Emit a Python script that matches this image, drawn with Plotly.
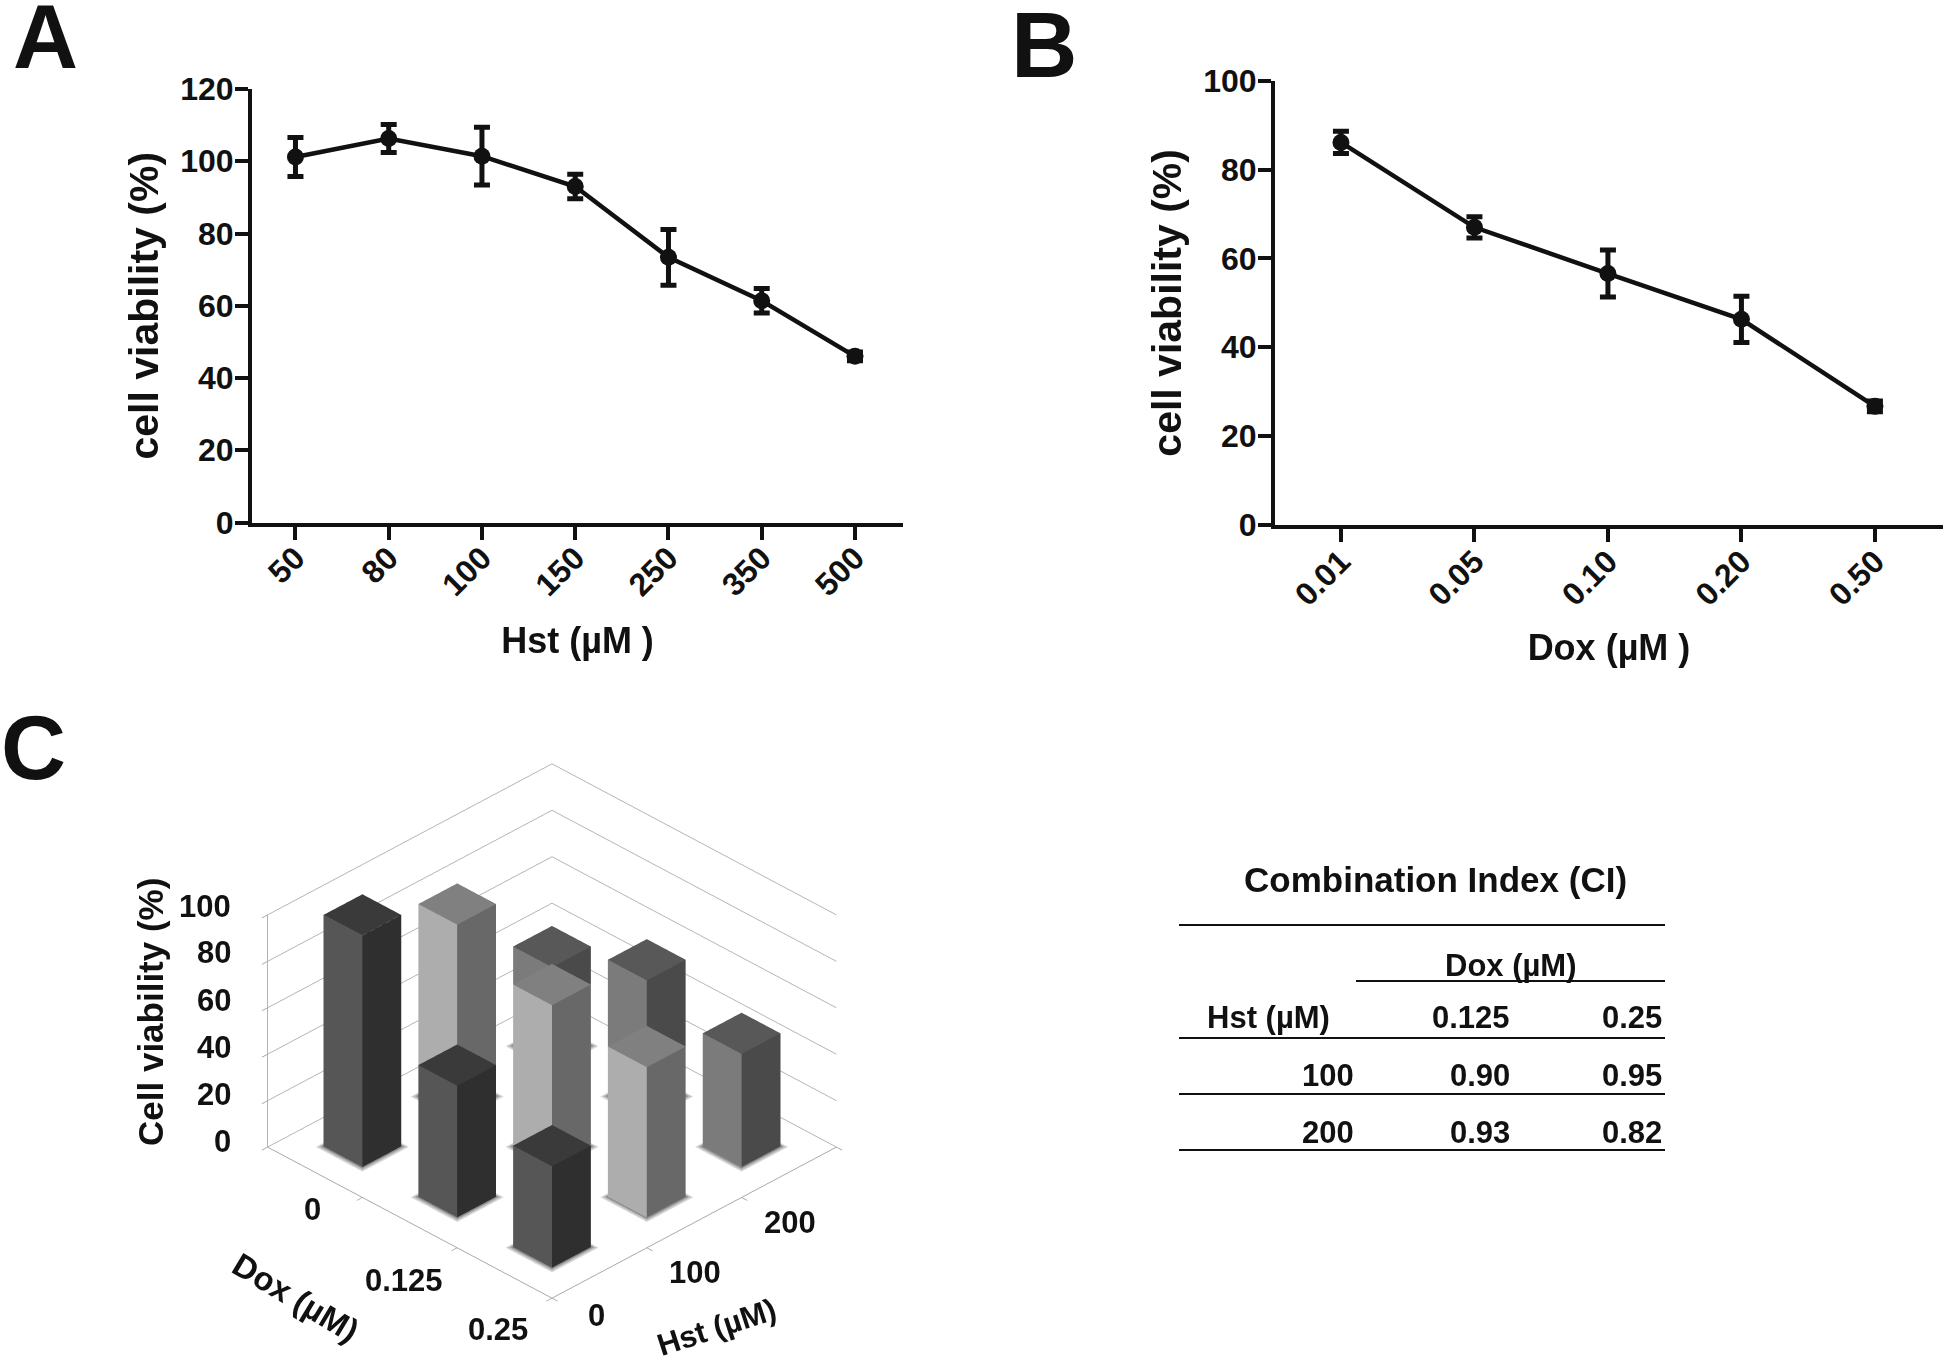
import plotly.graph_objects as go

W, H = 1946, 1363
FONT = "Liberation Sans"
INK = "#111111"

# Panel A
hst_doses = ["50", "80", "100", "150", "250", "350", "500"]
hst_viability = [101.2, 106.3, 101.4, 93.0, 73.4, 61.4, 46.0]
hst_error = [5.4, 3.9, 8.0, 3.4, 7.7, 3.4, 1.2]

# Panel B
dox_doses = ["0.01", "0.05", "0.10", "0.20", "0.50"]
dox_viability = [86.1, 67.0, 56.6, 46.3, 26.7]
dox_error = [2.5, 2.4, 5.3, 5.2, 1.2]

# Panel C
combo_dox = ["0", "0.125", "0.25"]
combo_hst = ["0", "100", "200"]
combo_viability = [
    [100, 83, 43],
    [57, 70, 59],
    [44, 65, 49],
]
combo_ticks = [0, 20, 40, 60, 80, 100]

# CI table
ci_dox = ["0.125", "0.25"]
ci_hst = ["100", "200"]
ci_values = [["0.90", "0.95"], ["0.93", "0.82"]]


def px(x):
    return x / W


def py(y):
    return 1 - y / H


fig = go.Figure()


def line_panel(xa, ya, cats, vals, errs):
    fig.add_trace(go.Scatter(
        x=cats, y=vals, xaxis=xa, yaxis=ya, mode="lines+markers",
        line=dict(color=INK, width=4.5),
        marker=dict(color=INK, size=17),
        error_y=dict(type="data", array=errs, color=INK, thickness=5, width=8),
        showlegend=False, hoverinfo="skip", cliponaxis=False,
    ))


line_panel("x", "y", hst_doses, hst_viability, hst_error)
line_panel("x2", "y2", dox_doses, dox_viability, dox_error)

# 3D bars
BAR_COLORS = [
    dict(top="#3a3a3a", left="#565656", right="#2f2f2f"),
    dict(top="#808080", left="#adadad", right="#686868"),
    dict(top="#585858", left="#7b7b7b", right="#4a4a4a"),
]
HALF = 0.205


def box(xc, yc, half, z0, z1, col):
    xs = [xc - half, xc + half, xc + half, xc - half] * 2
    ys = [yc - half, yc - half, yc + half, yc + half] * 2
    zs = [z0] * 4 + [z1] * 4
    faces = [
        (4, 5, 6, col["top"]), (4, 6, 7, col["top"]),
        (0, 1, 5, col["left"]), (0, 5, 4, col["left"]),     # faces -y
        (1, 2, 6, col["right"]), (1, 6, 5, col["right"]),   # faces +x
    ]
    return go.Mesh3d(
        x=xs, y=ys, z=zs,
        i=[f[0] for f in faces], j=[f[1] for f in faces], k=[f[2] for f in faces],
        facecolor=[f[3] for f in faces], flatshading=True,
        lighting=dict(ambient=1, diffuse=0, specular=0, fresnel=0, roughness=1),
        hoverinfo="skip", showscale=False, scene="scene",
    )


for i, row in enumerate(combo_viability):
    for j, v in enumerate(row):
        for grow, shade, lift in ((0.04, "#dcdcdc", 0.1), (0.028, "#bdbdbd", 0.2), (0.014, "#8f8f8f", 0.3)):
            fig.add_trace(box(i, j, HALF + grow, 0, lift,
                              dict(top=shade, left=shade, right=shade)))
        fig.add_trace(box(i, j, HALF, 0, v, BAR_COLORS[j]))

axis3d = dict(
    showbackground=False, showgrid=False, zeroline=False, showspikes=False,
    showline=True, linecolor="#a8a8a8", linewidth=2,
    ticks="outside", tickcolor="#a8a8a8", ticklen=8, tickwidth=2,
    showticklabels=False, title=dict(text=""),
)
cell_edges = [-0.5, 0.5, 1.5, 2.5]

EL_SIN, EL_COS, R = 0.531, 0.847, 3.2
D = 0.7071
SCENE_CX, SCENE_CY = 552, 1031

fig.update_layout(
    width=W, height=H, autosize=False,
    margin=dict(l=0, r=0, t=0, b=0, autoexpand=False),
    paper_bgcolor="white", plot_bgcolor="white",
    font=dict(family=FONT, color=INK),
    showlegend=False,
    scene=dict(
        domain=dict(x=[px(SCENE_CX - 400), px(SCENE_CX + 400)],
                    y=[py(SCENE_CY + 327), py(SCENE_CY - 327)]),
        aspectmode="manual",
        aspectratio=dict(x=1.23, y=1.23, z=0.838),
        camera=dict(
            eye=dict(x=R * EL_COS * D, y=-R * EL_COS * D, z=R * EL_SIN),
            up=dict(x=0, y=0, z=1),
            center=dict(x=0, y=0, z=0),
            projection=dict(type="orthographic"),
        ),
        xaxis=dict(axis3d, range=[-0.5, 2.5], tickmode="array", tickvals=cell_edges),
        yaxis=dict(axis3d, range=[-0.5, 2.5], tickmode="array", tickvals=cell_edges),
        zaxis=dict(axis3d, range=[0, 100], tickmode="array", tickvals=combo_ticks,
                   showgrid=True, gridcolor="#b4b4b4", gridwidth=2),
    ),
)

axis2d = dict(
    showgrid=False, zeroline=False, showline=True, linecolor=INK, linewidth=4,
    ticks="outside", tickcolor=INK, tickwidth=4, ticklen=13,
    tickfont=dict(family=FONT, size=32, color=INK, weight="bold"),
)
title_font = dict(family=FONT, size=36, color=INK, weight="bold")
ytitle_font = dict(family=FONT, size=41, color=INK, weight="bold")

fig.update_layout(
    xaxis=dict(axis2d, domain=[px(252), px(903)], range=[-0.466, 6.515], anchor="y",
               type="category", tickangle=-45, ticklabelstandoff=-13,
               title=dict(text="Hst (µM )", font=title_font, standoff=27)),
    yaxis=dict(axis2d, domain=[py(522.5), py(89)], range=[0, 120], anchor="x", dtick=20,
               ticklabelstandoff=-5,
               title=dict(text="cell viability (%)", font=ytitle_font, standoff=10)),
    xaxis2=dict(axis2d, domain=[px(1275), px(1943)], range=[-0.494, 4.51], anchor="y2",
                type="category", tickangle=-45, ticklabelstandoff=-12,
                title=dict(text="Dox (µM )", font=title_font, standoff=24)),
    yaxis2=dict(axis2d, domain=[py(525), py(80.7)], range=[0, 100], anchor="x2", dtick=20,
                ticklabelstandoff=-5,
                title=dict(text="cell viability (%)", font=ytitle_font, standoff=10)),
)


def label(text, x, y, size, anchor="center", angle=0):
    fig.add_annotation(
        text=text, x=px(x), y=py(y), xref="paper", yref="paper",
        xanchor=anchor, yanchor="middle", showarrow=False, textangle=angle,
        font=dict(family=FONT, size=size, color=INK, weight="bold"),
    )


def rule(x0, x1, y):
    fig.add_shape(type="line", xref="paper", yref="paper",
                  x0=px(x0), x1=px(x1), y0=py(y), y1=py(y),
                  line=dict(color=INK, width=2))


label("A", 45, 37, 90)
label("B", 1044, 45, 92)
label("C", 33, 748, 90)

# Panel C axis text
for v in combo_ticks:
    label(str(v), 233, 1141 - v * 2.35, 31, "right")
for name, (x, y) in zip(combo_dox, [(312, 1209), (404, 1280), (498, 1329)]):
    label(name, x, y, 31)
for name, (x, y) in zip(combo_hst, [(596, 1315), (695, 1272), (790, 1222)]):
    label(name, x, y, 31)
label("Dox (µM)", 296, 1297, 33, angle=31)
label("Hst (µM)", 716, 1327, 31, angle=-18)
label("Cell viability (%)", 150, 1012, 35, angle=-90)

# CI table
label("Combination Index (CI)", 1435, 879, 35)
rule(1179, 1665, 925)
label("Dox (µM)", 1511, 965, 31)
rule(1356, 1665, 981)
label("Hst (µM)", 1268, 1018, 31)
COL_RIGHT = [1512, 1664]
for c, name in enumerate(ci_dox):
    label(name, COL_RIGHT[c], 1018, 31, "right")
rule(1179, 1665, 1038)
ROW_Y = [1075, 1132]
RULE_Y = [1094, 1150]
for r, name in enumerate(ci_hst):
    label(name, 1356, ROW_Y[r], 31, "right")
    for c, v in enumerate(ci_values[r]):
        label(v, COL_RIGHT[c], ROW_Y[r], 31, "right")
    rule(1179, 1665, RULE_Y[r])

fig.write_html("out.html", config=dict(displayModeBar=False),
               post_script="document.body.style.margin='0';")
